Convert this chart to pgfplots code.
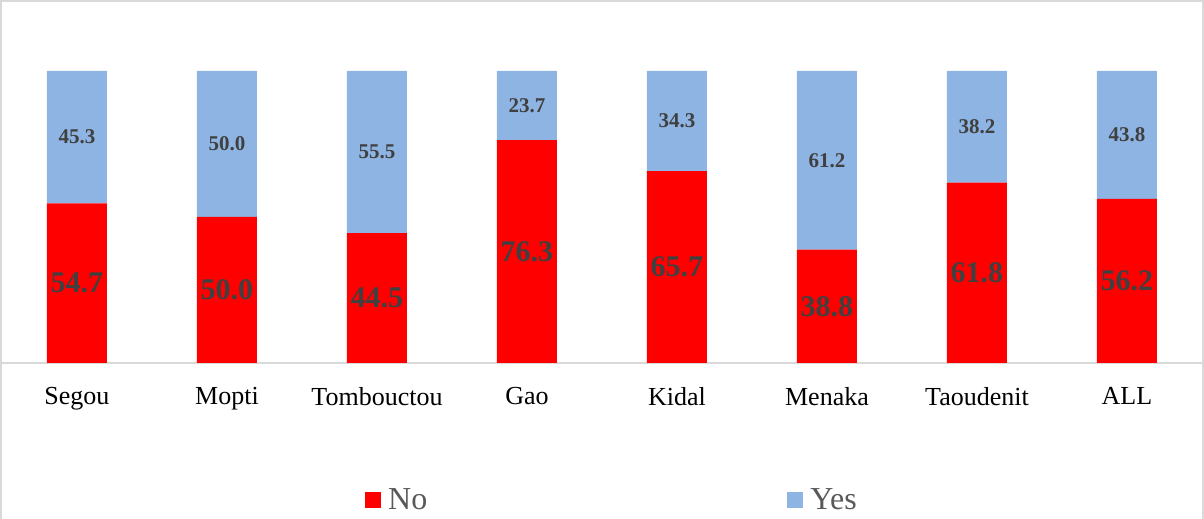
\documentclass[border=0pt]{standalone}
\usepackage{pgfplots}
\pgfplotsset{compat=1.18}
\usepackage{pgfplotstable}
\usepackage{fontspec}
\setmainfont{Liberation Serif}
\definecolor{noRed}{HTML}{FF0000}
\definecolor{yesBlue}{HTML}{8EB4E3}
\definecolor{lblGray}{HTML}{404040}
\definecolor{legGray}{HTML}{595959}
\definecolor{lineGray}{HTML}{D9D9D9}
\pgfplotsset{sqlegend/.style={legend image code/.code={\fill[##1] (0pt,-8pt) rectangle (16pt,8pt); \path (21pt,0pt);}}}
\pgfplotstableread{
x no yes
0 54.7 45.3
1 50.0 50.0
2 44.5 55.5
3 76.3 23.7
4 65.7 34.3
5 38.8 61.2
6 61.8 38.2
7 56.2 43.8
}\datatable
\begin{document}
\begin{tikzpicture}
\begin{axis}[
  at={(2pt,156pt)}, anchor=south west,
  scale only axis, width=1200pt, height=292pt,
  xmin=-0.5, xmax=7.5, ymin=0, ymax=100,
  ybar stacked, bar width=60pt,
  axis x line*=bottom, axis y line=none,
  axis line style={draw=lineGray, line width=1.5pt},
  xtick={0,...,7},
  xticklabels={Segou,Mopti,Tombouctou,Gao,Kidal,Menaka,Taoudenit,ALL},
  major tick length=0pt,
  xticklabel style={font=\fontsize{26}{30}\selectfont, text=black, yshift=-21pt},
  ytick=\empty,
  clip=false,
  every node near coord/.append style={anchor=center, text=lblGray},
  legend columns=2,
  legend style={at={(0.3025,-0.469)}, anchor=west, draw=none, fill=none,
    font=\fontsize{32}{32}\selectfont, text=legGray, inner sep=0pt,
    /tikz/every even column/.append style={column sep=358pt}},
]
\addplot[fill=noRed, draw=none, sqlegend,
  point meta=explicit,
  nodes near coords={\bfseries\fontsize{30}{30}\selectfont\pgfmathprintnumber[fixed,fixed zerofill,precision=1,assume math mode=true]{\pgfplotspointmeta}}]
  table[x=x, y=no, meta=no] \datatable;
\addlegendentry{No}
\addplot[fill=yesBlue, draw=none, sqlegend,
  point meta=explicit,
  nodes near coords={\bfseries\fontsize{21}{21}\selectfont\pgfmathprintnumber[fixed,fixed zerofill,precision=1,assume math mode=true]{\pgfplotspointmeta}}]
  table[x=x, y=yes, meta=yes] \datatable;
\addlegendentry{Yes}
\end{axis}
\pgfresetboundingbox
\useasboundingbox (0,0) rectangle (1204pt,519pt);
\draw[lineGray, line width=1.5pt] (1pt,0) -- (1pt,518pt) -- (1203pt,518pt) -- (1203pt,0);
\end{tikzpicture}
\end{document}
